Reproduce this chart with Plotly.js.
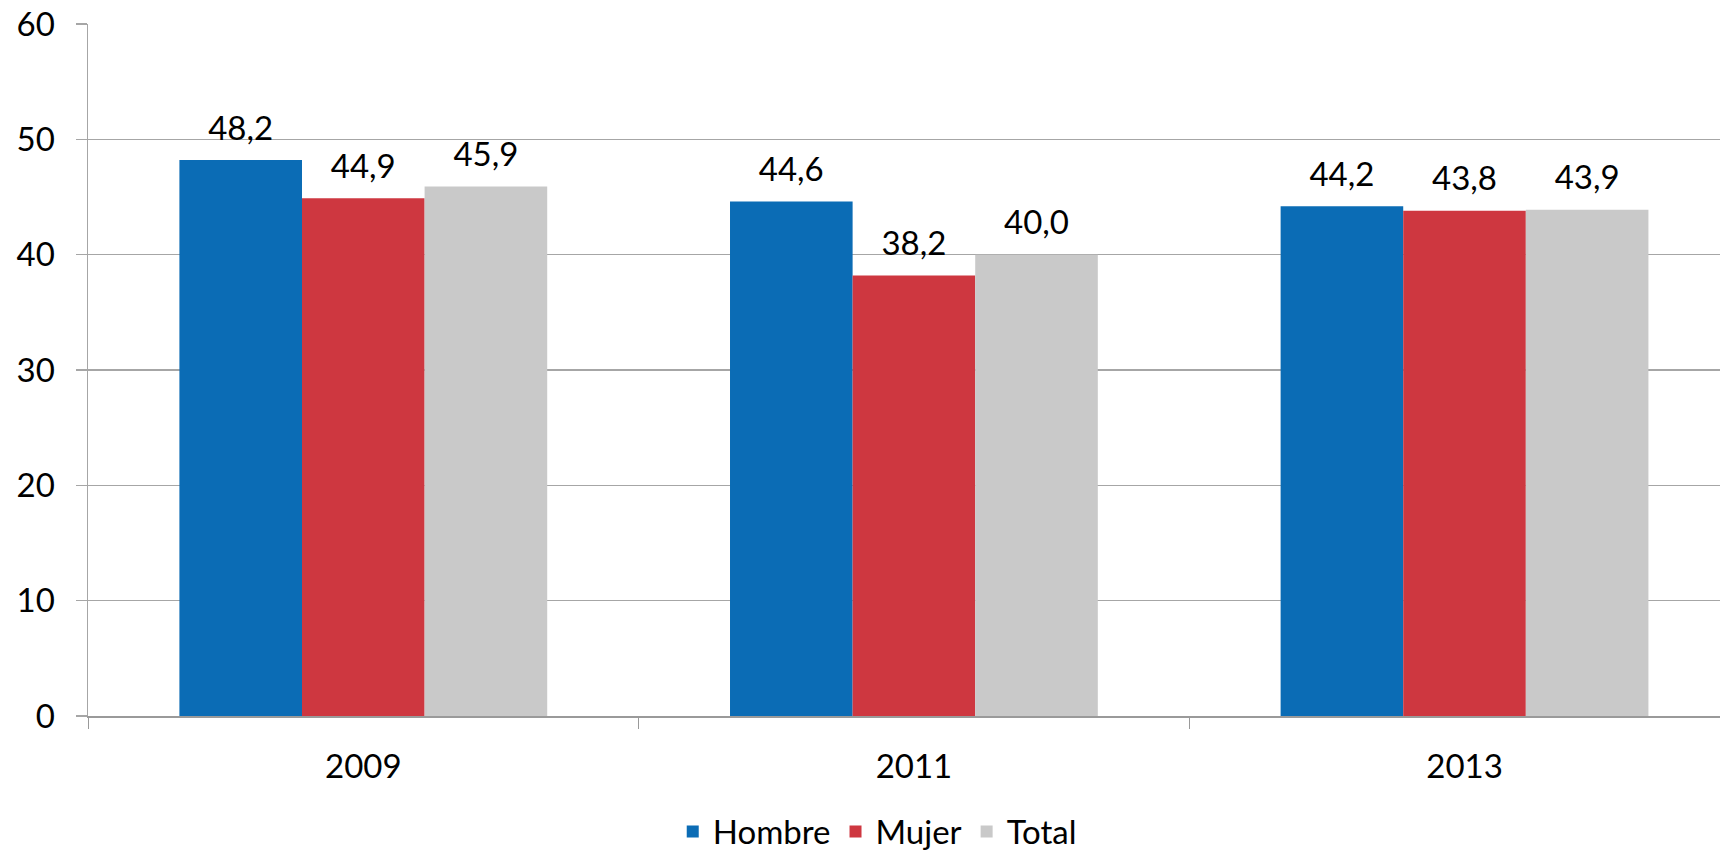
<!DOCTYPE html>
<html>
<head>
<meta charset="utf-8">
<script src="https://cdn.plot.ly/plotly-3.0.1.min.js"></script>
<style>html,body{margin:0;padding:0;background:#fff;}#chart{width:1720px;height:855px;}</style>
</head>
<body>
<div id="chart"></div>
<script>
const years = ['2009', '2011', '2013'];
const hombre = [48.2, 44.6, 44.2];
const mujer = [44.9, 38.2, 43.8];
const total = [45.9, 40.0, 43.9];
const seriesNames = ['Hombre', 'Mujer', 'Total'];
const seriesColors = ['#0B6CB5', '#CE3740', '#C9C9C9'];
const yTicks = [0, 10, 20, 30, 40, 50, 60];

const FONT = 'Lato, "Open Sans", sans-serif';
const allSeries = [hombre, mujer, total];
const barTraces = allSeries.map((vals, i) => ({
  type: 'bar',
  name: seriesNames[i],
  x: years,
  y: vals,
  marker: {color: seriesColors[i], line: {width: 0}},
  hoverinfo: 'skip'
}));
const labelTraces = allSeries.map((vals, i) => ({
  type: 'scatter',
  mode: 'markers+text',
  name: seriesNames[i] + ' etiqueta',
  showlegend: false,
  x: years,
  y: vals,
  marker: {size: 18, opacity: 0, color: seriesColors[i]},
  texttemplate: '%{y:.1f}',
  textposition: 'top center',
  textfont: {family: FONT, size: 33, color: '#000'},
  cliponaxis: false,
  hoverinfo: 'skip'
}));

const layout = {
  width: 1720,
  height: 855,
  separators: ',.',
  margin: {l: 88, r: 0, t: 24, b: 139, pad: 0, autoexpand: false},
  paper_bgcolor: '#fff',
  plot_bgcolor: '#fff',
  font: {family: FONT, size: 33, color: '#000'},
  barmode: 'group',
  bargap: 0.332,
  bargroupgap: 0,
  scattermode: 'group',
  scattergap: 0.332,
  showlegend: true,
  legend: {
    orientation: 'h',
    x: 0.4836,
    xanchor: 'center',
    y: -0.167,
    yanchor: 'middle',
    font: {family: FONT, size: 33, color: '#000'},
    itemclick: false,
    traceorder: 'normal'
  },
  xaxis: {
    type: 'category',
    range: [-0.5, 2.464],
    showgrid: false,
    showline: true,
    linecolor: '#9A9A9A',
    linewidth: 2,
    ticks: 'outside',
    tickson: 'boundaries',
    ticklen: 11,
    tickcolor: '#9A9A9A',
    tickwidth: 1,
    ticklabelstandoff: 20,
    tickfont: {family: FONT, size: 33, color: '#000'},
    fixedrange: true
  },
  yaxis: {
    range: [0, 60],
    tickvals: yTicks,
    showgrid: true,
    gridcolor: '#A6A6A6',
    gridwidth: 1.5,
    zeroline: false,
    showline: true,
    linecolor: '#A6A6A6',
    linewidth: 1.5,
    ticks: 'outside',
    ticklen: 11,
    tickcolor: '#A6A6A6',
    tickwidth: 1.5,
    ticklabelstandoff: 14,
    tickfont: {family: FONT, size: 33, color: '#000'},
    fixedrange: true
  }
};

Plotly.newPlot('chart', barTraces.concat(labelTraces), layout, {displayModeBar: false, staticPlot: true});
</script>
</body>
</html>
